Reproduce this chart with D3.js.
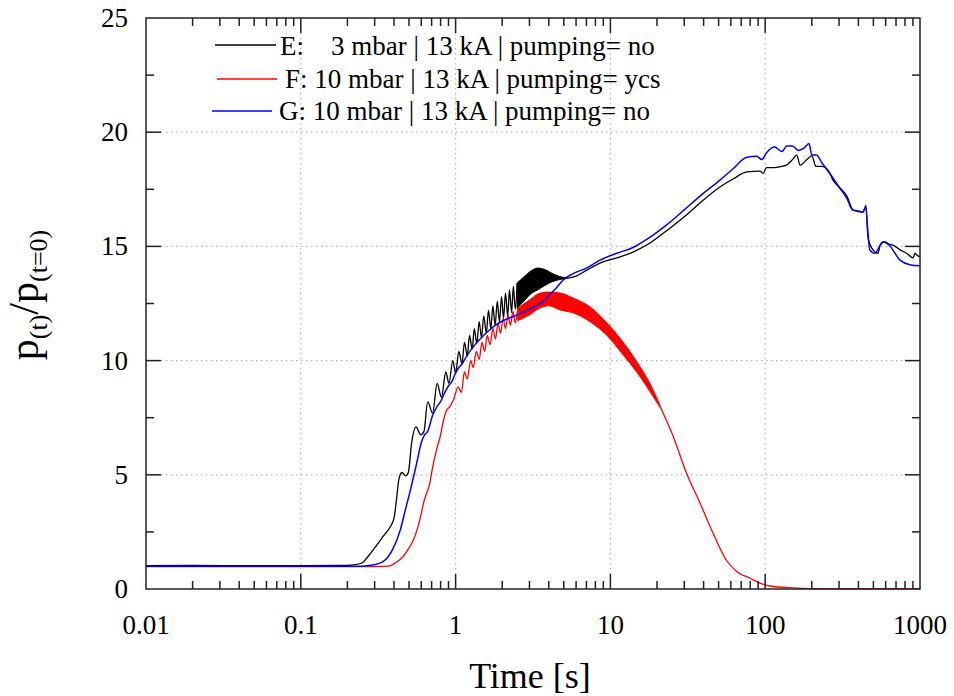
<!DOCTYPE html>
<html>
<head>
<meta charset="utf-8">
<script src="https://cdn.jsdelivr.net/npm/d3@7"></script>
<style>
  body { margin: 0; background: #fff; }
  text { font-family: "Liberation Serif", "Times New Roman", serif; fill: #000; }
</style>
</head>
<body>
<svg id="chart"></svg>
<script>
// pressure ratio vs time: [t, value]
var blackRise = [
  [0.01,1.02],[0.02,1.03],[0.05,1.02],[0.1,1.02],[0.18,1.03],[0.22,1.06],[0.25,1.15],
  [0.27,1.4],[0.3,1.8],[0.34,2.3],[0.38,2.75],[0.4,3.1],[0.415,3.9],[0.43,4.8],[0.45,5.1],
  [0.475,4.95],[0.495,5.1],[0.52,6.4],[0.555,7.1],[0.595,6.75],[0.625,6.9],[0.66,8.2],
  [0.71,7.7],[0.76,9.0],[0.81,8.4],[0.865,9.5],[0.905,9.0],[0.96,10.0],[1.0,9.45],
  [1.05,10.4],[1.1,9.85],[1.14,10.8],[1.19,10.2],[1.23,11.1],[1.28,10.5],[1.32,11.4],
  [1.37,10.75],[1.42,11.7],[1.47,11.0],[1.52,11.95],[1.58,11.2],[1.63,12.2],[1.69,11.4],
  [1.74,12.4],[1.8,11.55],[1.86,12.6],[1.92,11.7],[1.98,12.8],[2.04,11.85],[2.1,12.95],
  [2.17,11.95],[2.23,13.1],[2.3,12.1],[2.36,13.25],[2.43,12.25],[2.5,13.4]
];
// dense oscillation, drawn as a band: [t, low, high]
var blackBand = [
  [2.5,12.3,13.4],[2.8,12.65,13.7],[3.1,12.95,13.95],[3.4,13.1,14.05],[3.8,13.3,13.98],
  [4.2,13.45,13.82],[4.7,13.55,13.68],[5.2,13.6,13.62]
];
var blackTail = [
  [5.2,13.6],[6,13.7],[7,13.95],[8.57,14.27],[11,14.5],[14,14.75],[18,15.15],[23.2,15.7],
  [30,16.3],[37.9,16.9],[51,17.6],[62,17.95],[76,18.26],[92.5,18.3],[97,18.2],[102,18.45],
  [115,18.45],[128,18.5],[140,18.6],[150,18.8],[160,19.0],[168,18.56],[186,18.8],[200,18.96],
  [213,18.5],[233,18.5],[262,18.2],[274,17.9],[300,17.6],[337,17.2],[369,16.6],[400,16.55],
  [428,16.5],[448,16.8],[461,15.4],[497,14.85],[535,14.7],[553,15.06],[594,15.2],[630,15.1],
  [670,15.06],[743,14.85],[820,14.7],[902,14.5],[930,14.7],[960,14.6],[1000,14.55]
];

var redRise = [
  [0.01,0.98],[0.1,0.98],[0.3,0.98],[0.37,1.0],[0.41,1.15],[0.455,1.4],[0.5,1.8],[0.53,2.1],
  [0.57,2.7],[0.6,3.3],[0.62,3.75],[0.65,4.2],[0.68,4.6],[0.7,5.1],[0.76,6.2],[0.79,6.6],
  [0.83,7.3],[0.87,7.8],[0.92,8.0],[0.97,8.3],[1.04,8.85],[1.09,8.6],[1.14,9.5],[1.19,9.2],
  [1.25,10.0],[1.3,9.7],[1.36,10.4],[1.42,10.05],[1.48,10.8],[1.54,10.4],[1.6,11.1],
  [1.67,10.7],[1.74,11.4],[1.81,10.95],[1.88,11.65],[1.95,11.2],[2.03,11.85],[2.1,11.4],
  [2.18,12.0],[2.26,11.55],[2.35,12.15],[2.43,11.65],[2.52,12.3]
];
var redBand = [
  [2.52,11.75,12.3],[3,12.0,12.65],[3.5,12.3,12.95],[4,12.4,13.0],[4.8,12.2,12.95],
  [5.7,12.1,12.75],[7.4,11.7,12.35],[9.5,11.1,11.65],[12.1,10.25,10.8],[14.8,9.5,9.95],
  [18,8.65,9.0],[20.9,7.95,8.05]
];
var redFall = [
  [20.9,8.0],[25.4,6.7],[31,5.08],[37.9,3.77],[46,2.45],[56,1.27],[65.7,0.76],[80,0.47],
  [92.5,0.26],[110,0.12],[150,0.05],[200,0.02],[400,0.01],[1000,0.01]
];

var blueLine = [
  [0.01,1.0],[0.1,1.0],[0.25,1.0],[0.29,1.05],[0.34,1.2],[0.39,1.7],[0.44,2.6],[0.475,3.5],
  [0.505,4.2],[0.56,5.5],[0.6,6.4],[0.63,6.75],[0.66,6.9],[0.71,7.6],[0.76,8.0],[0.8,8.2],
  [0.85,8.6],[0.9,8.9],[0.95,9.1],[0.99,9.4],[1.05,9.7],[1.1,9.85],[1.18,10.2],[1.3,10.6],
  [1.42,10.9],[1.6,11.25],[1.85,11.6],[2.2,11.85],[2.5,12.0],[2.9,12.2],[3.3,12.4],
  [3.7,12.6],[4.0,12.85],[4.5,13.2],[4.9,13.5],[5.7,13.8],[7,14.05],[8.57,14.4],[11,14.7],
  [14,14.95],[18,15.4],[23.2,15.95],[30,16.6],[37.9,17.2],[51,17.9],[62,18.4],[76,18.9],
  [88,18.95],[95,18.8],[102,19.1],[115,19.35],[128,19.15],[138,19.4],[150,19.4],[164,19.2],
  [178,19.3],[192,19.5],[200,19.0],[214,19.0],[233,18.65],[274,18.0],[300,17.6],[337,17.1],
  [366,16.6],[428,16.5],[444,16.7],[474,14.85],[510,14.7],[577,15.2],[630,15.06],
  [743,14.4],[860,14.2],[1000,14.15]
];

var xTickValues = [0.01, 0.1, 1, 10, 100, 1000];
var xTickLabels = ["0.01", "0.1", "1", "10", "100", "1000"];
var yTickValues = [0, 5, 10, 15, 20, 25];

var legendLabels = [
  "E:    3 mbar | 13 kA | pumping= no",
  "F: 10 mbar | 13 kA | pumping= ycs",
  "G: 10 mbar | 13 kA | pumping= no"
];
var legendColors = ["#000000", "#ff0000", "#0000ff"];

function drawChart() {
  // ---- layout
  var width = 954, height = 696;
  var pLeft = 146, pRight = 920, pTop = 18, pBottom = 589;

  var svg = d3.select("#chart").attr("width", width).attr("height", height);

  var x = d3.scaleLog().domain([0.01, 1000]).range([pLeft, pRight]);
  var y = d3.scaleLinear().domain([0, 25]).range([pBottom, pTop]);

  var axisColor = "#222";

  // grid (dotted)
  var grid = svg.append("g")
    .attr("stroke", "#b4b4b4").attr("stroke-width", 1.2).attr("stroke-dasharray", "1.5,3.5");
  grid.selectAll(".gx").data(xTickValues.slice(1, -1)).enter().append("line")
    .attr("x1", d => x(d)).attr("x2", d => x(d)).attr("y1", pTop).attr("y2", pBottom);
  grid.selectAll(".gy").data(yTickValues.slice(1, -1)).enter().append("line")
    .attr("x1", pLeft).attr("x2", pRight).attr("y1", d => y(d)).attr("y2", d => y(d));

  // ---- data
  var line = d3.line().x(d => x(d[0])).y(d => y(d[1])).curve(d3.curveMonotoneX);
  var band = d3.area().x(d => x(d[0])).y0(d => y(d[1])).y1(d => y(d[2])).curve(d3.curveMonotoneX);

  var plot = svg.append("g");

  function drawSeries(parts, bandData, color) {
    plot.append("path").datum(bandData).attr("d", band)
      .attr("fill", color).attr("stroke", color).attr("stroke-width", 1);
    parts.forEach(function(p) {
      plot.append("path").datum(p).attr("d", line)
        .attr("fill", "none").attr("stroke", color)
        .attr("stroke-width", 1.3).attr("stroke-linejoin", "round");
    });
  }

  drawSeries([blackRise, blackTail], blackBand, "#000000");
  drawSeries([redRise, redFall], redBand, "#ff0000");
  plot.append("path").datum(blueLine).attr("d", line)
    .attr("fill", "none").attr("stroke", "#0000ff")
    .attr("stroke-width", 1.5).attr("stroke-linejoin", "round");

  // ---- frame + ticks
  svg.append("rect")
    .attr("x", pLeft).attr("y", pTop).attr("width", pRight - pLeft).attr("height", pBottom - pTop)
    .attr("fill", "none").attr("stroke", axisColor).attr("stroke-width", 1.5);

  var ticks = svg.append("g").attr("stroke", axisColor).attr("stroke-width", 1.5);

  var xMinor = x.ticks().filter(d => xTickValues.indexOf(d) < 0);
  var xMajor = xTickValues.slice(1, -1);

  function xTicks(data, len) {
    data.forEach(function(d) {
      ticks.append("line").attr("x1", x(d)).attr("x2", x(d)).attr("y1", pBottom).attr("y2", pBottom - len);
      ticks.append("line").attr("x1", x(d)).attr("x2", x(d)).attr("y1", pTop).attr("y2", pTop + len);
    });
  }
  xTicks(xMinor, 8);
  xTicks(xMajor, 15);

  var yMinor = d3.range(0, 5).map(i => yTickValues[i] + 2.5);
  function yTicks(data, len) {
    data.forEach(function(d) {
      ticks.append("line").attr("x1", pLeft).attr("x2", pLeft + len).attr("y1", y(d)).attr("y2", y(d));
      ticks.append("line").attr("x1", pRight).attr("x2", pRight - len).attr("y1", y(d)).attr("y2", y(d));
    });
  }
  yTicks(yMinor, 8);
  yTicks(yTickValues.slice(1, -1), 15);

  // tick labels
  svg.selectAll(".xl").data(xTickValues).enter().append("text")
    .attr("x", d => x(d)).attr("y", 634)
    .attr("text-anchor", "middle").attr("font-size", 27)
    .text((d, i) => xTickLabels[i]);

  svg.selectAll(".yl").data(yTickValues).enter().append("text")
    .attr("x", 128).attr("y", d => y(d) + 9)
    .attr("text-anchor", "end").attr("font-size", 27)
    .text(d => d);

  // axis titles
  svg.append("text")
    .attr("x", 530).attr("y", 688)
    .attr("text-anchor", "middle").attr("font-size", 36)
    .text("Time [s]");

  var yTitle = svg.append("text")
    .attr("transform", "translate(38,295) rotate(-90)")
    .attr("text-anchor", "middle").attr("font-size", 42);
  yTitle.append("tspan").text("p");
  yTitle.append("tspan").attr("font-size", 26).attr("dy", 9).text("(t)");
  yTitle.append("tspan").attr("dy", -9).text("/p");
  yTitle.append("tspan").attr("font-size", 26).attr("dy", 9).text("(t=0)");

  // ---- legend
  var legendRows = [
    { x1: 215, x2: 276, ly: 45, tx: 280, ty: 55 },
    { x1: 217, x2: 277, ly: 79, tx: 285, ty: 88 },
    { x1: 212, x2: 272, ly: 111, tx: 279, ty: 120 }
  ];
  var legend = svg.append("g");
  legendRows.forEach(function(r, i) {
    legend.append("line")
      .attr("x1", r.x1).attr("x2", r.x2).attr("y1", r.ly).attr("y2", r.ly)
      .attr("stroke", legendColors[i]).attr("stroke-width", 1.5);
    legend.append("text")
      .attr("x", r.tx).attr("y", r.ty)
      .attr("font-size", 27)
      .style("white-space", "pre")
      .text(legendLabels[i]);
  });
}

drawChart();
</script>
</body>
</html>
